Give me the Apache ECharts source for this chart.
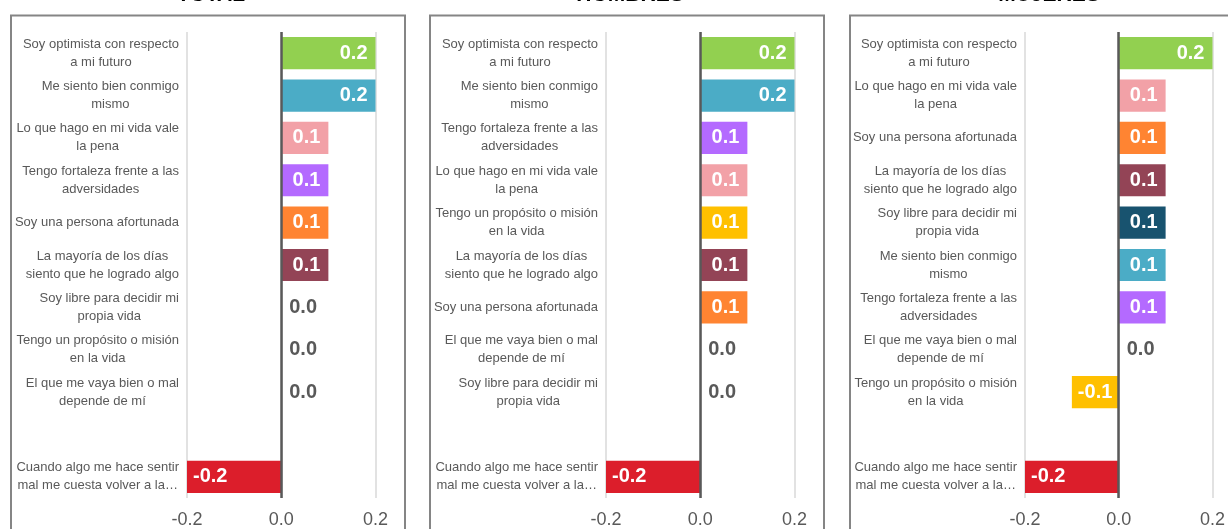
<!DOCTYPE html>
<html>
<head>
<meta charset="utf-8">
<script src="https://cdn.jsdelivr.net/npm/echarts@6/dist/echarts.min.js"></script>
<style>
  html, body { margin: 0; padding: 0; background: #fff; }
  #main { width: 1228px; height: 529px; }
</style>
</head>
<body>
<div id="main"></div>
<script type="text/javascript">
    // datos por panel (orden de arriba hacia abajo)
    var panelTitles = ['TOTAL', 'HOMBRES', 'MUJERES'];

    var totalCategories = [
        'Soy optimista con respecto\na mi futuro',
        'Me siento bien conmigo\nmismo',
        'Lo que hago en mi vida vale\nla pena',
        'Tengo fortaleza frente a las\nadversidades',
        'Soy una persona afortunada',
        'La mayoría de los días\nsiento que he logrado algo',
        'Soy libre para decidir mi\npropia vida',
        'Tengo un propósito o misión\nen la vida',
        'El que me vaya bien o mal\ndepende de mí',
        '',
        'Cuando algo me hace sentir\nmal me cuesta volver a la…'
    ];
    var totalValues = [0.2, 0.2, 0.1, 0.1, 0.1, 0.1, 0.0, 0.0, 0.0, null, -0.2];

    var hombresCategories = [
        'Soy optimista con respecto\na mi futuro',
        'Me siento bien conmigo\nmismo',
        'Tengo fortaleza frente a las\nadversidades',
        'Lo que hago en mi vida vale\nla pena',
        'Tengo un propósito o misión\nen la vida',
        'La mayoría de los días\nsiento que he logrado algo',
        'Soy una persona afortunada',
        'El que me vaya bien o mal\ndepende de mí',
        'Soy libre para decidir mi\npropia vida',
        '',
        'Cuando algo me hace sentir\nmal me cuesta volver a la…'
    ];
    var hombresValues = [0.2, 0.2, 0.1, 0.1, 0.1, 0.1, 0.1, 0.0, 0.0, null, -0.2];

    var mujeresCategories = [
        'Soy optimista con respecto\na mi futuro',
        'Lo que hago en mi vida vale\nla pena',
        'Soy una persona afortunada',
        'La mayoría de los días\nsiento que he logrado algo',
        'Soy libre para decidir mi\npropia vida',
        'Me siento bien conmigo\nmismo',
        'Tengo fortaleza frente a las\nadversidades',
        'El que me vaya bien o mal\ndepende de mí',
        'Tengo un propósito o misión\nen la vida',
        '',
        'Cuando algo me hace sentir\nmal me cuesta volver a la…'
    ];
    var mujeresValues = [0.2, 0.1, 0.1, 0.1, 0.1, 0.1, 0.1, 0.0, -0.1, null, -0.2];

    var xTicks = [-0.2, 0.0, 0.2];

    // color de cada afirmación
    var colorOf = {
        'Soy optimista con respecto\na mi futuro': '#92d050',
        'Me siento bien conmigo\nmismo': '#4bacc6',
        'Lo que hago en mi vida vale\nla pena': '#f2a1a7',
        'Tengo fortaleza frente a las\nadversidades': '#b46aff',
        'Soy una persona afortunada': '#ff8432',
        'La mayoría de los días\nsiento que he logrado algo': '#934456',
        'Soy libre para decidir mi\npropia vida': '#18536f',
        'Tengo un propósito o misión\nen la vida': '#ffc000',
        'El que me vaya bien o mal\ndepende de mí': '#7f7f7f',
        'Cuando algo me hace sentir\nmal me cuesta volver a la…': '#dc1e2b'
    };

    var panels = [
        {cats: totalCategories, vals: totalValues},
        {cats: hombresCategories, vals: hombresValues},
        {cats: mujeresCategories, vals: mujeresValues}
    ];

    var FONT = '"Liberation Sans", Arial, sans-serif';
    var GRAY = '#595959';
    var gridLeft = [187, 606, 1025];
    var boxLeft = [11, 430, 850];

    function buildData(cats, vals) {
        return vals.map(function (v, i) {
            if (v === null) return {value: null};
            var item = {value: v, itemStyle: {color: colorOf[cats[i]]}};
            if (v === 0) {
                item.label = {position: 'right', color: GRAY, distance: 8};
            } else if (v < 0) {
                item.label = {position: 'insideLeft', distance: 6};
            }
            return item;
        });
    }

    var option = {
        animation: false,
        textStyle: {fontFamily: FONT},
        title: [],
        grid: [],
        xAxis: [],
        yAxis: [],
        series: [],
        graphic: []
    };

    panels.forEach(function (p, k) {
        option.title.push({
            text: panelTitles[k],
            left: gridLeft[k] + 24,
            top: -15,
            padding: 0,
            textAlign: 'center',
            textStyle: {fontSize: 21, fontWeight: 'bold', color: '#000', fontFamily: FONT}
        });
        option.graphic.push({
            type: 'rect',
            silent: true,
            z: -10,
            shape: {x: boxLeft[k], y: 15.5, width: 394, height: 540},
            style: {fill: 'none', stroke: '#858585', lineWidth: 2}
        });
        option.grid.push({left: gridLeft[k], width: 188.5, top: 32, height: 467.5});
        option.xAxis.push({
            type: 'value',
            gridIndex: k,
            min: xTicks[0],
            max: xTicks[xTicks.length - 1],
            interval: 0.2,
            axisLine: {show: false},
            axisTick: {show: false},
            splitLine: {show: true, lineStyle: {color: '#d9d9d9', width: 1.5}},
            axisLabel: {
                fontSize: 18,
                color: GRAY,
                margin: 13,
                formatter: function (v) { return (Math.abs(v) < 1e-9 ? 0 : v).toFixed(1); }
            }
        });
        option.yAxis.push({
            type: 'category',
            gridIndex: k,
            inverse: true,
            data: p.cats,
            axisLine: {show: false},
            axisTick: {show: false},
            axisLabel: {
                margin: 8,
                interval: 0,
                formatter: function (v) {
                    if (!v) return '';
                    return v.split('\n').map(function (s) { return '{c|' + s + '}'; }).join('\n');
                },
                rich: {
                    c: {align: 'center', fontSize: 13, color: GRAY, lineHeight: 18, fontFamily: FONT}
                }
            }
        });
        option.series.push({
            type: 'bar',
            xAxisIndex: k,
            yAxisIndex: k,
            barWidth: '76%',
            data: buildData(p.cats, p.vals),
            label: {
                show: true,
                position: 'insideRight',
                distance: 8,
                color: '#fff',
                fontSize: 20,
                fontWeight: 'bold',
                fontFamily: FONT,
                formatter: function (q) { return q.value == null ? '' : q.value.toFixed(1); }
            },
            markLine: {
                silent: true,
                symbol: 'none',
                label: {show: false},
                lineStyle: {color: GRAY, width: 2.5, type: 'solid'},
                data: [{xAxis: 0}]
            }
        });
    });

    var myChart = echarts.init(document.getElementById('main'));
    myChart.setOption(option, true);
</script>
</body>
</html>
